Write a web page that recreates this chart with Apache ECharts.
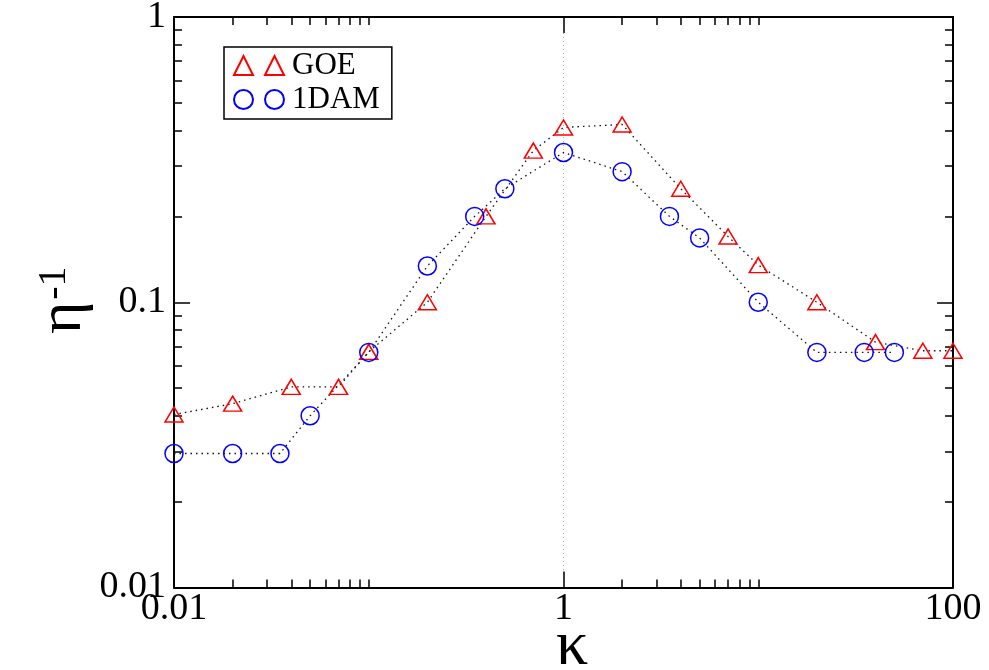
<!DOCTYPE html>
<html>
<head>
<meta charset="utf-8">
<script src="https://cdn.jsdelivr.net/npm/echarts@6/dist/echarts.min.js"></script>
<style>
html,body{margin:0;padding:0;background:#fff;}
#chart{width:989px;height:670px;}
</style>
</head>
<body>
<div id="chart"></div>
<script>
// ---- data ----
const kappaGOE = [0.01, 0.02, 0.04, 0.07, 0.1, 0.2, 0.4, 0.7, 1, 2, 4, 7, 10, 20, 40, 70, 100];
const etaGOE   = [0.0404, 0.0441, 0.0505, 0.0505, 0.067, 0.1, 0.2, 0.34, 0.41, 0.42, 0.25, 0.17, 0.135, 0.1, 0.0725, 0.0676, 0.0676];
const kappa1DAM = [0.01, 0.02, 0.035, 0.05, 0.1, 0.2, 0.35, 0.5, 1, 2, 3.5, 5, 10, 20, 35, 50];
const eta1DAM   = [0.0295, 0.0295, 0.0295, 0.04, 0.0667, 0.134, 0.2, 0.25, 0.335, 0.287, 0.2, 0.168, 0.1, 0.0667, 0.0667, 0.0667];

const xMajorTicks = [0.01, 1, 100];
const xMinorTicks = [0.02, 0.03, 0.04, 0.05, 0.06, 0.07, 0.08, 0.09, 0.1, 2, 3, 4, 5, 6, 7, 8, 9, 10];
const yMajorTicks = [0.01, 0.1, 1];
const yMinorTicks = [0.02, 0.03, 0.04, 0.05, 0.06, 0.07, 0.08, 0.09, 0.2, 0.3, 0.4, 0.5, 0.6, 0.7, 0.8, 0.9];
const seriesNames = ['GOE', '1DAM'];

// ---- chart ----
const FONT = "'Liberation Serif','Times New Roman',serif";
const chart = echarts.init(document.getElementById('chart'), null, {renderer: 'canvas'});

function zip(xs, ys) { return xs.map((x, i) => [x, ys[i]]); }

function xAxisDef(pos, ticks, len, opts) {
  return Object.assign({
    type: 'log', logBase: 10, min: 0.01, max: 100, position: pos, gridIndex: 0,
    axisLine: {show: false},
    axisTick: {show: true, inside: true, length: len, customValues: ticks, lineStyle: {color: '#000', width: 1.5}},
    axisLabel: {show: false},
    splitLine: {show: false}, minorTick: {show: false}, minorSplitLine: {show: false}
  }, opts || {});
}
function yAxisDef(pos, ticks, len, opts) {
  return Object.assign({
    type: 'log', logBase: 10, min: 0.01, max: 1, position: pos, gridIndex: 0,
    axisLine: {show: false},
    axisTick: {show: true, inside: true, length: len, customValues: ticks, lineStyle: {color: '#000', width: 1.5}},
    axisLabel: {show: false},
    splitLine: {show: false}, minorTick: {show: false}, minorSplitLine: {show: false}
  }, opts || {});
}

const labelFmt = v => String(+v.toPrecision(6));

const option = {
  animation: false,
  backgroundColor: '#fff',
  grid: {left: 174, right: 36, top: 17, bottom: 82.5, containLabel: false, outerBoundsMode: 'none'},
  legend: {
    orient: 'vertical',
    left: 224, top: 47,
    padding: [3, 12, 4, 9],
    itemGap: 3,
    itemWidth: 50, itemHeight: 19,
    backgroundColor: '#fff',
    borderColor: '#000', borderWidth: 1.5,
    textStyle: {fontFamily: FONT, fontSize: 31, color: '#000', padding: [0, 0, 0, 3]},
    selectedMode: false
  },
  xAxis: [
    xAxisDef('bottom', xMajorTicks, 16, {
      axisLine: {show: true, onZero: false, lineStyle: {color: '#000', width: 2}},
      axisLabel: {show: true, customValues: xMajorTicks, formatter: labelFmt, margin: 3,
        fontFamily: FONT, fontSize: 38, color: '#000'},
      splitLine: {show: true, lineStyle: {color: '#c9a6a6', width: 1, type: [1, 3]}},
      name: 'κ', nameLocation: 'middle', nameGap: 28, nameMoveOverlap: false,
      nameTextStyle: {fontFamily: FONT, fontSize: 64, color: '#000', padding: [0, 0, 0, 17]}
    }),
    xAxisDef('bottom', xMinorTicks, 8),
    xAxisDef('top', xMajorTicks, 16, {axisLine: {show: true, onZero: false, lineStyle: {color: '#000', width: 2}}}),
    xAxisDef('top', xMinorTicks, 8)
  ],
  yAxis: [
    yAxisDef('left', yMajorTicks, 16, {
      axisLine: {show: true, onZero: false, lineStyle: {color: '#000', width: 2}},
      axisLabel: {show: true, customValues: yMajorTicks, formatter: labelFmt, margin: 8,
        fontFamily: FONT, fontSize: 38, color: '#000'},
      name: '{e|η}{s|-1}', nameLocation: 'middle', nameGap: 80, nameRotate: 90, nameMoveOverlap: false,
      nameTextStyle: {
        fontFamily: FONT, color: '#000',
        rich: {
          e: {fontFamily: FONT, fontSize: 62, lineHeight: 60, color: '#000', padding: [0, 2, 0, 4]},
          s: {fontFamily: FONT, fontSize: 40, lineHeight: 8, color: '#000', verticalAlign: 'top'}
        }
      }
    }),
    yAxisDef('left', yMinorTicks, 8),
    yAxisDef('right', yMajorTicks, 16, {axisLine: {show: true, onZero: false, lineStyle: {color: '#000', width: 2}}}),
    yAxisDef('right', yMinorTicks, 8)
  ],
  series: [
    {
      name: seriesNames[0], type: 'line', xAxisIndex: 0, yAxisIndex: 0,
      data: zip(kappaGOE, etaGOE),
      symbol: 'triangle', symbolSize: [18, 15], showSymbol: true, clip: false,
      itemStyle: {color: 'rgba(0,0,0,0)', borderColor: '#ff0000', borderWidth: 1.5},
      lineStyle: {color: '#111', width: 1.3, type: [1.5, 4]},
      emphasis: {disabled: true}, z: 3
    },
    {
      name: seriesNames[1], type: 'line', xAxisIndex: 0, yAxisIndex: 0,
      data: zip(kappa1DAM, eta1DAM),
      symbol: 'circle', symbolSize: 18, showSymbol: true, clip: false,
      itemStyle: {color: 'rgba(0,0,0,0)', borderColor: '#0000ff', borderWidth: 1.5},
      lineStyle: {color: '#111', width: 1.3, type: [1.5, 4]},
      emphasis: {disabled: true}, z: 3
    }
  ]
};
option.legend.data = [
  {name: seriesNames[0], icon: 'path://M0 19L9.5 0L19 19Z M31 19L40.5 0L50 19Z'},
  {name: seriesNames[1], icon: 'path://M0 9.5A9.5 9.5 0 1 1 19 9.5A9.5 9.5 0 1 1 0 9.5Z M31 9.5A9.5 9.5 0 1 1 50 9.5A9.5 9.5 0 1 1 31 9.5Z'}
];
chart.setOption(option);
</script>
</body>
</html>
